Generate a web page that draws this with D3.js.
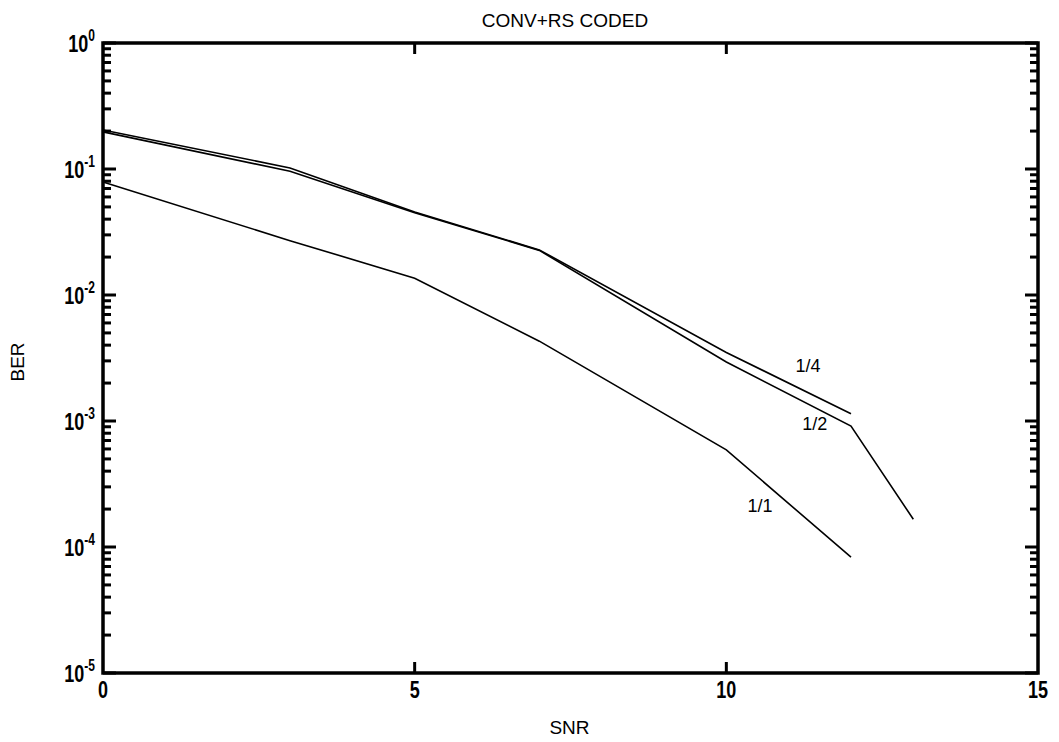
<!DOCTYPE html>
<html>
<head>
<meta charset="utf-8">
<script src="https://cdn.jsdelivr.net/npm/d3@7"></script>
<style>
  body { margin: 0; background: #fff; }
  svg text { fill: #000; }
  .tick-label { font-family: "Liberation Sans", Arial, sans-serif; font-weight: bold; }
  .title, .axis-title, .curve-label { font-family: "Liberation Sans", Arial, sans-serif; }
</style>
</head>
<body>
<div id="chart"></div>
<script>
// data (SNR in dB, BER)
const snr = [0, 3, 5, 7, 10, 12];
const snrHalf = [0, 3, 5, 7, 10, 12, 13];
const berQuarter = [0.204, 0.102, 0.0456, 0.0228, 0.0035, 0.00114];
const berHalf = [0.197, 0.096, 0.0450, 0.0226, 0.00294, 0.00091, 0.000166];
const berOne = [0.079, 0.027, 0.0136, 0.0043, 0.00059, 0.000083];

const xTicks = [0, 5, 10, 15];
const yExponents = [0, -1, -2, -3, -4, -5];

const curveNames = ["1/4", "1/2", "1/1"];
const curveLabelSnr = [11.31, 11.42, 10.54];
const curveLabelBer = [0.00245, 0.00085, 0.00019];

var margin = { top: 43, bottom: 69, left: 103, right: 21 };
var totalW = 1059, totalH = 742;
var width = totalW - margin.left - margin.right;
var height = totalH - margin.top - margin.bottom;

var svg = d3.select("#chart")
    .append("svg")
    .attr("width", totalW)
    .attr("height", totalH);

const g = svg.append("g").attr("transform", `translate(${margin.left},${margin.top})`);

const xscale = d3.scaleLinear().domain([0, 15]).range([0, width]);
const yscale = d3.scaleLog().domain([1e-5, 1]).range([height, 0]);

// minor + major ticks on the log axis, inward on both sides
const minorVals = [];
for (let e = -5; e < 0; e++) {
    for (let m = 2; m <= 9; m++) minorVals.push(m * Math.pow(10, e));
}
const majorVals = yExponents.map((e) => Math.pow(10, e));

function drawYTicks(x0, dir) {
    g.append("g").selectAll("line").data(minorVals).join("line")
        .attr("x1", x0).attr("x2", x0 + dir * 8)
        .attr("y1", (d) => yscale(d)).attr("y2", (d) => yscale(d))
        .attr("stroke", "#000").attr("stroke-width", 3);
    g.append("g").selectAll("line").data(majorVals).join("line")
        .attr("x1", x0).attr("x2", x0 + dir * 13)
        .attr("y1", (d) => yscale(d)).attr("y2", (d) => yscale(d))
        .attr("stroke", "#000").attr("stroke-width", 3);
}
drawYTicks(0, 1);
drawYTicks(width, -1);

// x ticks bottom and top
[height, 0].forEach((y0) => {
    const dir = y0 === 0 ? 1 : -1;
    g.append("g").selectAll("line").data(xTicks.slice(1, 3)).join("line")
        .attr("x1", (d) => xscale(d)).attr("x2", (d) => xscale(d))
        .attr("y1", y0).attr("y2", y0 + dir * 11)
        .attr("stroke", "#000").attr("stroke-width", 3);
});

// frame
g.append("rect").attr("width", width).attr("height", height)
    .attr("fill", "none").attr("stroke", "#000").attr("stroke-width", 3.5);

// x tick labels (narrow bold)
g.append("g").selectAll("text").data(xTicks).join("text")
    .attr("class", "tick-label")
    .attr("transform", (d) => `translate(${xscale(d)},${height + 25}) scale(0.75,1)`)
    .attr("text-anchor", "middle")
    .attr("font-size", 24)
    .text((d) => d);

// y tick labels 10^e
const ylab = g.append("g").selectAll("text").data(yExponents).join("text")
    .attr("class", "tick-label")
    .attr("transform", (d) => `translate(-8,${yscale(Math.pow(10, d)) + 9}) scale(0.75,1)`)
    .attr("text-anchor", "end")
    .attr("font-size", 24);
ylab.append("tspan").text("10");
ylab.append("tspan").attr("dy", -11).attr("font-size", 16).text((d) => d === 0 ? "0" : "-" + Math.abs(d));

// curves
const line = d3.line().x((d) => xscale(d[0])).y((d) => yscale(d[1]));
const curves = [
    d3.zip(snr, berQuarter),
    d3.zip(snrHalf, berHalf),
    d3.zip(snr, berOne)
];
g.append("g").selectAll("path").data(curves).join("path")
    .attr("d", line)
    .attr("fill", "none")
    .attr("stroke", "#000")
    .attr("stroke-width", 1.6);

// curve labels
g.append("g").selectAll("text").data(curveNames).join("text")
    .attr("class", "curve-label")
    .attr("x", (d, i) => xscale(curveLabelSnr[i]))
    .attr("y", (d, i) => yscale(curveLabelBer[i]))
    .attr("text-anchor", "middle")
    .attr("font-size", 18)
    .text((d) => d);

// titles
svg.append("text").attr("class", "title")
    .attr("x", 565).attr("y", 27)
    .attr("text-anchor", "middle")
    .attr("font-size", 19)
    .text("CONV+RS CODED");

svg.append("text").attr("class", "axis-title")
    .attr("x", margin.left + width / 2 - 1).attr("y", 734)
    .attr("text-anchor", "middle")
    .attr("font-size", 19)
    .text("SNR");

svg.append("text").attr("class", "axis-title")
    .attr("transform", "translate(24,362) rotate(-90)")
    .attr("text-anchor", "middle")
    .attr("font-size", 19)
    .text("BER");
</script>
</body>
</html>
